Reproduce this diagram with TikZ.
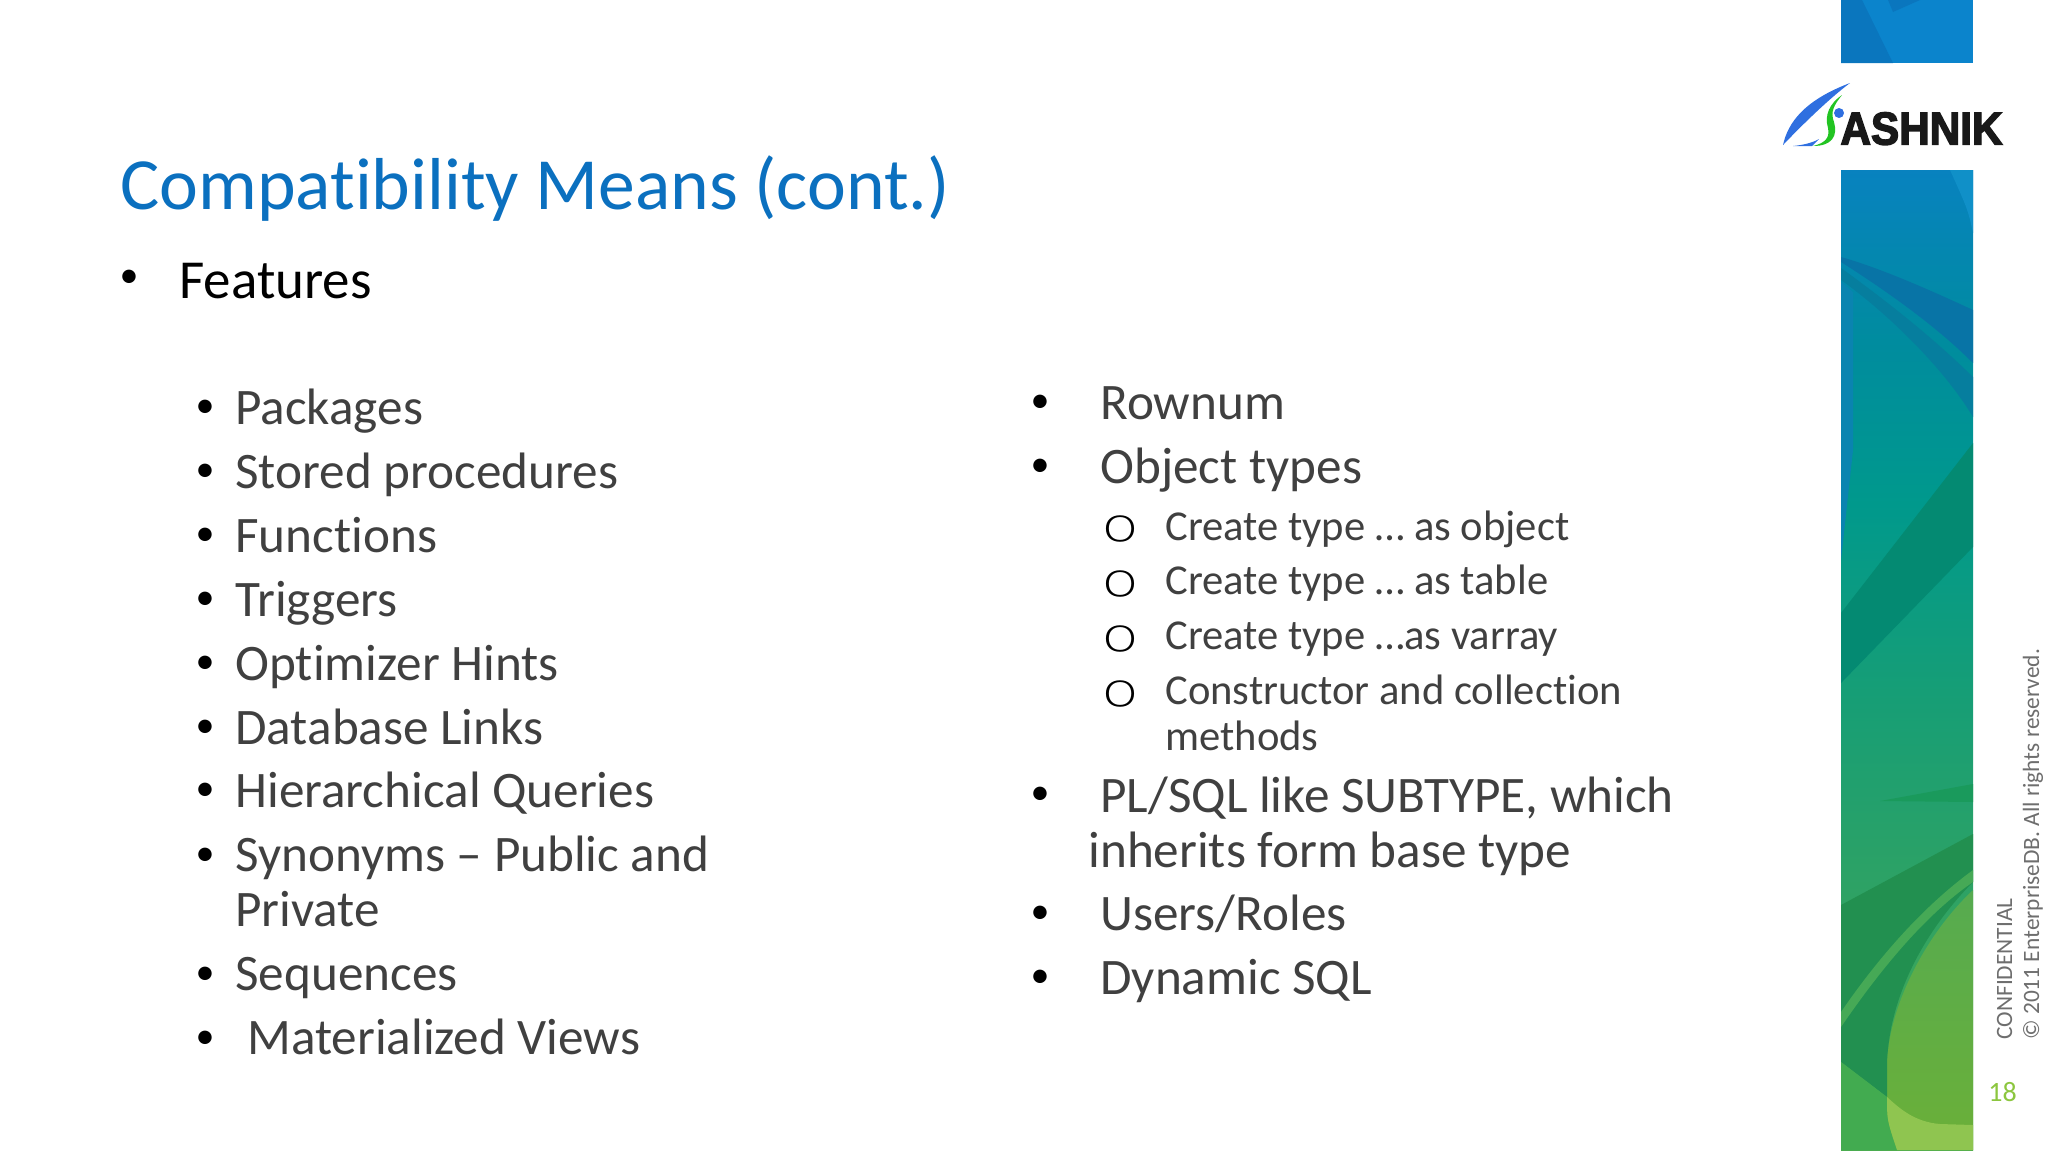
\documentclass[tikz,border=0pt]{standalone}
\usepackage{fontspec}
\setmainfont[Ligatures=NoCommon]{Carlito}
\newfontfamily\logofont[FakeBold=3,FakeStretch=0.92]{Liberation Sans Bold}
\newfontfamily\ringfont[FakeStretch=1.35]{DejaVu Sans ExtraLight}
\definecolor{titleBlue}{HTML}{0B70BF}
\definecolor{bodyGray}{HTML}{404040}
\definecolor{sideGray}{HTML}{6E6E6E}
\definecolor{pageGreen}{HTML}{8CC63F}
\definecolor{capBlue}{HTML}{0B84CC}
\definecolor{capDark}{HTML}{0A76BE}
\definecolor{stripLight}{HTML}{1090C8}
\definecolor{stripEdge}{HTML}{0A84B0}
\definecolor{sweepA}{HTML}{0874A6}
\definecolor{sweepB}{HTML}{067E9E}
\definecolor{bandTeal}{HTML}{048A72}
\definecolor{wedgeGreen}{HTML}{1A9A5C}
\definecolor{lowGreen}{HTML}{56AB50}
\definecolor{lowGreenEnd}{HTML}{6BB038}
\definecolor{darkGreen}{HTML}{229050}
\definecolor{stripeGreen}{HTML}{46A956}
\definecolor{cornerGreen}{HTML}{42AB50}
\definecolor{lightGreen}{HTML}{8FC550}
\definecolor{logoBlue}{HTML}{2F6FE0}
\definecolor{logoGreen}{HTML}{22C422}
\pgfdeclareverticalshading{stripShade}{100bp}{
  rgb(0bp)=(0.30,0.68,0.31);
  rgb(25bp)=(0.30,0.68,0.31);
  rgb(36bp)=(0.20,0.64,0.38);
  rgb(48bp)=(0.09,0.62,0.46);
  rgb(58bp)=(0.00,0.60,0.55);
  rgb(66bp)=(0.00,0.55,0.62);
  rgb(75bp)=(0.03,0.51,0.75);
  rgb(100bp)=(0.03,0.51,0.75)}
\tikzstyle{slideTitle} = [anchor=base west, inner sep=0, text=titleBlue, font=\fontsize{36.8}{44}\selectfont]
\tikzstyle{topItem} = [anchor=base west, inner sep=0, text=black, font=\fontsize{27.5}{33}\selectfont]
\tikzstyle{item} = [anchor=base west, inner sep=0, text=bodyGray, align=left, font=\fontsize{25.6}{27.5}\selectfont]
\tikzstyle{subItem} = [anchor=base west, inner sep=0, text=bodyGray, align=left, font=\fontsize{21.3}{23}\selectfont]
\tikzstyle{dot} = [anchor=center, inner sep=0, text=black, font=\fontsize{19}{22}\selectfont]
\tikzstyle{ring} = [anchor=center, inner sep=0, text=black, font=\ringfont\fontsize{23}{27}\selectfont]
\tikzstyle{sideNote} = [anchor=base west, rotate=90, inner sep=0, text=sideGray, font=\fontsize{11.7}{14}\selectfont]

\begin{document}
\begin{tikzpicture}[x=0.5pt, y=-0.5pt]
    \useasboundingbox (0,0) rectangle (2048,1152);

    % strip
    \fill [capBlue] (1841,0) rectangle (1973,63);
    \fill [capDark] (1841,0) -- (1862,0) -- (1893,63) -- (1841,63) -- cycle;
    \fill [capDark] (1888,0) -- (1920,0) -- (1893,12) -- cycle;
    \shade [shading=stripShade] (1841,170) rectangle (1973,1150);
    \fill [stripLight] (1950,170) -- (1973,170) -- (1973,233) .. controls (1968,210) .. (1950,170) -- cycle;
    \fill [stripEdge] (1841,282) -- (1853,292) -- (1853,450) -- (1841,560) -- cycle;
    \fill [sweepA] (1841,257) .. controls (1880,268) and (1930,290) .. (1973,310) -- (1973,363) .. controls (1935,325) and (1885,290) .. (1841,262) -- cycle;
    \fill [sweepB] (1841,268) .. controls (1885,300) and (1930,335) .. (1973,377) -- (1973,417) .. controls (1945,370) and (1890,315) .. (1841,280) -- cycle;
    \fill [bandTeal] (1841,613) -- (1973,443) -- (1973,547) -- (1841,683) -- cycle;
    \fill [wedgeGreen] (1880,801) -- (1973,784) -- (1973,802) -- cycle;
    \shade [top color=lowGreen, bottom color=lowGreenEnd] (1973,890) .. controls (1930,930) and (1890,1000) .. (1887,1062) -- (1887,1150) -- (1973,1150) -- cycle;
    \fill [darkGreen] (1841,905) -- (1973,834) -- (1973,882) .. controls (1930,925) and (1890,990) .. (1887,1062) -- (1887,1097) -- (1841,1062) -- cycle;
    \fill [stripeGreen] (1841,1012) .. controls (1880,955) and (1925,905) .. (1973,870) -- (1973,882) .. controls (1925,915) and (1880,970) .. (1841,1027) -- cycle;
    \fill [cornerGreen] (1841,1062) -- (1887,1097) .. controls (1887,1120) .. (1897,1150) -- (1841,1150) -- cycle;
    \fill [lightGreen] (1887,1097) .. controls (1900,1109) and (1915,1122) .. (1940,1124) -- (1973,1125) -- (1973,1150) -- (1897,1150) .. controls (1887,1120) .. (1887,1097) -- cycle;

    % logo
    \fill [logoBlue] (1783,145) .. controls (1788,122) and (1805,100) .. (1850,83) .. controls (1830,98) and (1805,122) .. (1783,145) -- cycle;
    \fill [logoBlue] (1793,146) .. controls (1803,145) and (1812,143) .. (1819,139) -- (1812,146) -- cycle;
    \fill [logoGreen] (1813,146) .. controls (1825,143) and (1830,138) .. (1828,128) .. controls (1824,115) and (1830,103) .. (1842,95) .. controls (1834,105) and (1830,112) .. (1834,122) .. controls (1838,136) and (1832,146) .. (1813,146) -- cycle;
    \fill [logoBlue] (1839,113) circle [radius=5];
    \node (logo) at (1840,144.5) [anchor=base west, inner sep=0, text=black!90, font=\logofont\fontsize{23}{26}\selectfont] {ASHNIK};

    \node (title) at (120,209) [slideTitle] {Compatibility Means (cont.)};

    \node (featDot) at (129,279) [dot] {•};
    \node (features) at (179,298) [topItem] {Features};

    \node (dotA) at (205,409) [dot] {•};
    \node (packages) at (235,424) [item] {Packages};
    \node (dotB) at (205,473) [dot] {•};
    \node (storedProc) at (235,488) [item] {Stored procedures};
    \node (dotC) at (205,537) [dot] {•};
    \node (functions) at (235,552) [item] {Functions};
    \node (dotD) at (205,601) [dot] {•};
    \node (triggers) at (235,616) [item] {Triggers};
    \node (dotE) at (205,665) [dot] {•};
    \node (hints) at (235,680) [item] {Optimizer Hints};
    \node (dotF) at (205,729) [dot] {•};
    \node (dbLinks) at (235,744) [item] {Database Links};
    \node (dotG) at (205,792) [dot] {•};
    \node (hierQueries) at (235,807) [item] {Hierarchical Queries};
    \node (dotH) at (205,857) [dot] {•};
    \node (synonyms) at (235,926) [item] {Synonyms – Public and\\Private};
    \node (dotI) at (205,976) [dot] {•};
    \node (sequences) at (235,990) [item] {Sequences};
    \node (dotJ) at (205,1040) [dot] {•};
    \node (matViews) at (247,1054) [item] {Materialized Views};

    \node (dotK) at (1040,404) [dot] {•};
    \node (rownum) at (1100,419) [item] {Rownum};
    \node (dotL) at (1040,468) [dot] {•};
    \node (objTypes) at (1100,483) [item] {Object types};
    \node (ringA) at (1120,529) [ring] {o};
    \node (asObject) at (1165,540) [subItem] {Create type … as object};
    \node (ringB) at (1120,584) [ring] {o};
    \node (asTable) at (1165,594) [subItem] {Create type … as table};
    \node (ringC) at (1120,639) [ring] {o};
    \node (asVarray) at (1165,649) [subItem] {Create type …as varray};
    \node (ringD) at (1120,694) [ring] {o};
    \node (constructor) at (1165,750) [subItem] {Constructor and collection\\methods};
    \node (dotM) at (1040,796) [dot] {•};
    \node (subtype) at (1088,867) [item] {\hspace{6pt}PL/SQL like SUBTYPE, which\\inherits form base type};
    \node (dotN) at (1040,915) [dot] {•};
    \node (roles) at (1100,930) [item] {Users/Roles};
    \node (dotO) at (1040,979) [dot] {•};
    \node (dynSql) at (1100,994) [item] {Dynamic SQL};

    \node (confidential) at (2012,1040) [sideNote] {CONFIDENTIAL};
    \node (copyright) at (2039,1040) [sideNote] {© 2011 EnterpriseDB. All rights reserved.};
    \node (pageNo) at (1988,1101) [anchor=base west, inner sep=0, text=pageGreen, font=\fontsize{14}{17}\selectfont] {18};
\end{tikzpicture}
\end{document}
